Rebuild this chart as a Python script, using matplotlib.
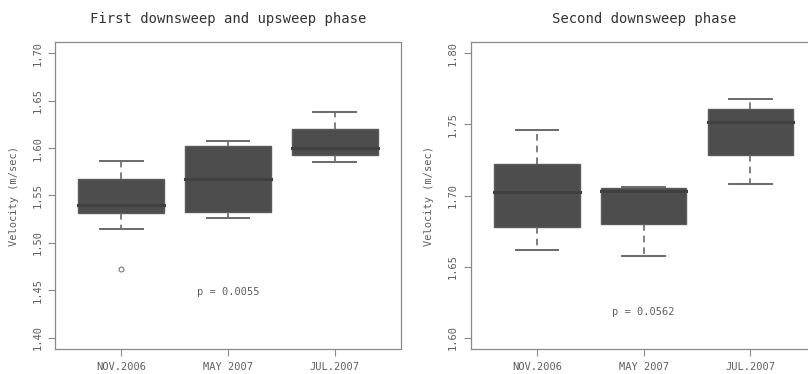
import matplotlib
matplotlib.use("Agg")
import matplotlib.pyplot as plt

# Sampling periods
periods = ["NOV.2006", "MAY 2007", "JUL.2007"]

# First downsweep and upsweep phase: five-number summaries (m/sec)
first_whislo = [1.515, 1.5265, 1.585]
first_q1 = [1.532, 1.5324, 1.5923]
first_med = [1.5405, 1.5676, 1.6003]
first_q3 = [1.5676, 1.602, 1.6197]
first_whishi = [1.586, 1.608, 1.6377]
first_fliers = [[1.472], [], []]
first_p = "p = 0.0055"

# Second downsweep phase: five-number summaries (m/sec)
second_whislo = [1.6617, 1.6573, 1.708]
second_q1 = [1.6776, 1.6797, 1.7285]
second_med = [1.7026, 1.7033, 1.7516]
second_q3 = [1.7222, 1.7050, 1.7606]
second_whishi = [1.7464, 1.7063, 1.7679]
second_fliers = [[], [], []]
second_p = "p = 0.0562"

first_ticks = [1.40, 1.45, 1.50, 1.55, 1.60, 1.65, 1.70]
second_ticks = [1.60, 1.65, 1.70, 1.75, 1.80]

FONT = "DejaVu Sans Mono"
TXT = "#5f5f5f"
FILL = "#4d4d4d"
EDGE = "#5a5a5a"
WHISK = "#6a6a6a"
FRAME = "#8a8a8a"


def stats(lo, q1, med, q3, hi, fl):
    return [dict(whislo=a, q1=b, med=c, q3=d, whishi=e, fliers=f, label=lab)
            for a, b, c, d, e, f, lab in zip(lo, q1, med, q3, hi, fl, periods)]


def panel(ax, st, ticks, title, ptext, py):
    ax.bxp(st, positions=[1, 2, 3], widths=0.8, patch_artist=True,
           boxprops=dict(facecolor=FILL, edgecolor=EDGE, linewidth=1.0),
           medianprops=dict(color="#404040", linewidth=2.2, solid_capstyle="projecting"),
           whiskerprops=dict(color=WHISK, linewidth=1.2, linestyle=(0, (4, 3))),
           capprops=dict(color=WHISK, linewidth=1.4),
           flierprops=dict(marker="o", markersize=3.5, markerfacecolor="none",
                           markeredgecolor="#777777", markeredgewidth=0.8))
    lo, hi = ticks[0], ticks[-1]
    pad = (hi - lo) * 0.04
    ax.set_ylim(lo - pad, hi + pad)
    ax.set_xlim(0.38, 3.62)
    ax.set_yticks(ticks)
    ax.set_yticklabels([f"{t:.2f}" for t in ticks], rotation=90, va="center",
                       family=FONT, fontsize=7.5, color=TXT)
    ax.set_xticks([1, 2, 3])
    ax.set_xticklabels(periods, family=FONT, fontsize=7.5, color=TXT)
    ax.tick_params(colors=FRAME, length=5, width=0.8, labelcolor=TXT, pad=4)
    for s in ax.spines.values():
        s.set_color(FRAME)
        s.set_linewidth(0.9)
    ax.set_ylabel("Velocity (m/sec)", family=FONT, fontsize=7.5, color=TXT, labelpad=10)
    ax.set_title(title, family=FONT, fontsize=10, color="#333333", pad=14)
    ax.text(2, py, ptext, ha="center", va="center", family=FONT, fontsize=7.5, color=TXT)


fig = plt.figure(figsize=(8.08, 3.74), dpi=100)
ax1 = fig.add_axes([55 / 808, 25 / 374, 346 / 808, 307 / 374])
ax2 = fig.add_axes([470.7 / 808, 25 / 374, 346 / 808, 307 / 374])

panel(ax1, stats(first_whislo, first_q1, first_med, first_q3, first_whishi, first_fliers),
      first_ticks, "First downsweep and upsweep phase", first_p, 1.4485)
panel(ax2, stats(second_whislo, second_q1, second_med, second_q3, second_whishi, second_fliers),
      second_ticks, "Second downsweep phase", second_p, 1.6183)

fig.savefig("out.png", dpi=100)
